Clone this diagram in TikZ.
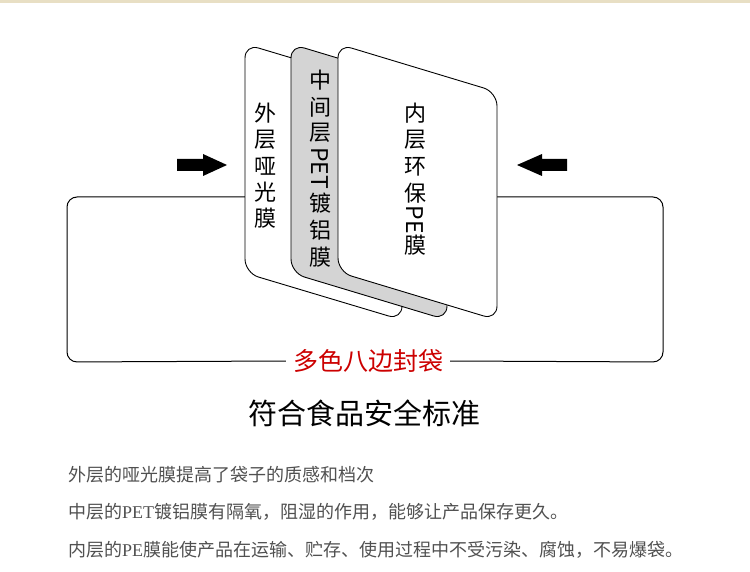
\documentclass[tikz,border=0pt]{standalone}
\usepackage{fontspec}
\setmainfont{Noto Sans CJK SC}
\newfontfamily\noteserif{Liberation Serif}
\usepackage{xcolor}
\definecolor{bandtan}{HTML}{E8DFC4}
\definecolor{midgray}{HTML}{D4D4D4}
\definecolor{bagred}{HTML}{CC0000}
\definecolor{notegray}{HTML}{505050}

\tikzset{
  layer/.style={draw=black, line width=0.9pt, rounded corners=14pt},
  layertext/.style={inner sep=0pt, font=\fontsize{22}{22}\selectfont},
  layerlatin/.style={inner sep=0pt, rotate=-90, font=\fontsize{23}{23}\selectfont},
  bracket/.style={line width=1pt, rounded corners=10pt},
  note/.style={anchor=west, inner sep=0pt, text=notegray, font=\fontsize{18}{18}\selectfont}
}

\begin{document}
\begin{tikzpicture}[x=1pt, y=-1pt]
\useasboundingbox (0,0) rectangle (750,572);
\fill[bandtan] (0,0) rectangle (750,3);

% bracket round the layers
\node[text=bagred, inner xsep=7pt, font=\fontsize{25}{25}\selectfont] (bag) at (368,361) {多色八边封袋};
\coordinate (brL) at (250,197);
\coordinate (brR) at (490,197);
\draw[bracket] (brL) -- (67,197) -- (67,362) -- (bag.west);
\draw[bracket] (brR) -- (663,197) -- (663,362) -- (bag.east);

% the three layers
\draw[layer, fill=white] (245,44) -- (402,91) -- (402,320) -- (245,273) -- cycle;
\draw[layer, fill=midgray] (291,44) -- (447,91) -- (447,320) -- (291,273) -- cycle;
\draw[layer, fill=white] (338,44) -- (497,92) -- (497,320) -- (338,272) -- cycle;

\foreach \c/\y in {外/113, 层/140, 哑/166, 光/192, 膜/218}
    \node[layertext] (out\y) at (265,\y) {\c};
\foreach \c/\y in {中/80, 间/107, 层/133, 镀/203, 铝/230, 膜/257}
    \node[layertext] (mid\y) at (320,\y) {\c};
\node[layerlatin] (midPET) at (320,168) {PET};
\foreach \c/\y in {内/113, 层/140, 环/167, 保/193, 膜/245}
    \node[layertext] (in\y) at (415,\y) {\c};
\node[layerlatin] (inPE) at (415,220) {PE};

% pressing arrows
\fill (177,159) -- (203,159) -- (203,154) -- (227,165) -- (203,176) -- (203,171) -- (177,171) -- cycle;
\fill (567,159) -- (542,159) -- (542,154) -- (517,165) -- (542,176) -- (542,171) -- (567,171) -- cycle;

\node[font=\fontsize{29}{29}\selectfont] (std) at (364,413) {符合食品安全标准};

\node[note] (note1) at (68,475) {外层的哑光膜提高了袋子的质感和档次};
\node[note] (note2) at (68,512) {中层的{\noteserif PET}镀铝膜有隔氧，阻湿的作用，能够让产品保存更久。};
\node[note] (note3) at (68,550) {内层的{\noteserif PE}膜能使产品在运输、贮存、使用过程中不受污染、腐蚀，不易爆袋。};

\end{tikzpicture}
\end{document}
